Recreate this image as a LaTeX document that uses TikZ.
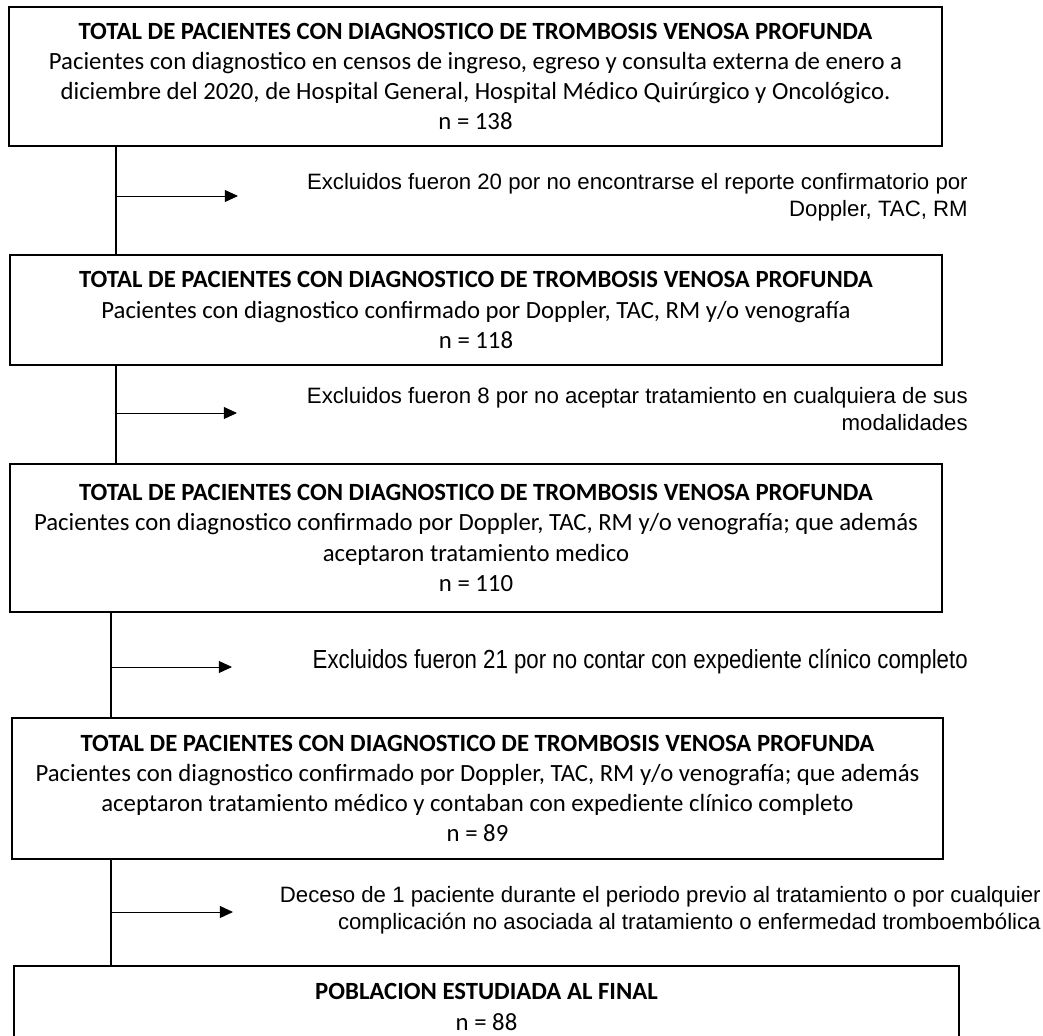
\documentclass[tikz,border=0pt]{standalone}
\usepackage{fontspec}
\setmainfont{Carlito}
\newfontfamily\arialfont{Liberation Sans}
\newfontfamily\narrowfont[FakeStretch=0.85]{Liberation Sans}
\usepackage{tikz}
\usetikzlibrary{calc,arrows.meta,positioning}
\tikzstyle{caja}=[draw,line width=1.2pt,align=center,inner sep=0pt,font=\fontsize{17.6}{21.4}\selectfont]
\tikzstyle{nota}=[anchor=east,align=right,inner sep=0pt,font=\arialfont\fontsize{15.8}{19.2}\selectfont]
\tikzstyle{linea}=[line width=1.2pt]
\tikzstyle{flecha}=[-{Triangle[length=0.33cm,width=0.3cm]},line width=0.6pt]

\begin{document}
\begin{tikzpicture}[x=0.025cm,y=-0.025cm]
        \useasboundingbox (0,0) rectangle (1043,1036);
        % First box:
        \node (b1) [caja,minimum width=23.33cm,minimum height=3.475cm] at (475.5,76.5)
        {\textbf{TOTAL DE PACIENTES CON DIAGNOSTICO DE TROMBOSIS VENOSA PROFUNDA}\\
        Pacientes con diagnostico en censos de ingreso, egreso y consulta externa de enero a\\
        diciembre del 2020, de Hospital General, Hospital Médico Quirúrgico y Oncológico.\\
        n = 138};
        % Second box:
        \node (b2) [caja,minimum width=23.3cm,minimum height=2.75cm] at (476,310)
        {\textbf{TOTAL DE PACIENTES CON DIAGNOSTICO DE TROMBOSIS VENOSA PROFUNDA}\\
        Pacientes con diagnostico confirmado por Doppler, TAC, RM y/o venografía\\
        n = 118};
        % Third box:
        \node (b3) [caja,minimum width=23.3cm,minimum height=3.7cm] at (476,538)
        {\textbf{TOTAL DE PACIENTES CON DIAGNOSTICO DE TROMBOSIS VENOSA PROFUNDA}\\
        Pacientes con diagnostico confirmado por Doppler, TAC, RM y/o venografía; que además\\
        aceptaron tratamiento medico\\
        n = 110};
        % Fourth box:
        \node (b4) [caja,minimum width=23.275cm,minimum height=3.525cm] at (477.5,788.5)
        {\textbf{TOTAL DE PACIENTES CON DIAGNOSTICO DE TROMBOSIS VENOSA PROFUNDA}\\
        Pacientes con diagnostico confirmado por Doppler, TAC, RM y/o venografía; que además\\
        aceptaron tratamiento médico y contaban con expediente clínico completo\\
        n = 89};
        % Fifth box:
        \node (b5) [caja,minimum width=23.625cm,minimum height=2.05cm] at (486.5,1007)
        {\textbf{POBLACION ESTUDIADA AL FINAL}\\
        n = 88};

        % Exclusions:
        \coordinate (s1) at (116,196); \coordinate (t1) at (238,196);
        \coordinate (s2) at (116,413); \coordinate (t2) at (237,413);
        \coordinate (s3) at (111,667); \coordinate (t3) at (232,667);
        \coordinate (s4) at (111,912); \coordinate (t4) at (233,912);

        \node (e1) [nota] at (968,197)
        {Excluidos fueron 20 por no encontrarse el reporte confirmatorio por\\ Doppler, TAC, RM};
        \node (e2) [nota] at (968,409)
        {Excluidos fueron 8 por no aceptar tratamiento en cualquiera de sus\\ modalidades};
        \node (e3) [nota,font=\narrowfont\fontsize{18.6}{20}\selectfont] at (968,662)
        {Excluidos fueron 21 por no contar con expediente clínico completo};
        \node (e4) [nota] at (1041,910)
        {Deceso de 1 paciente durante el periodo previo al tratamiento o por cualquier\\
        complicación no asociada al tratamiento o enfermedad tromboembólica};

        \draw[linea] (b1.south -| s1) -- (b2.north -| s1);
        \draw[linea] (b2.south -| s2) -- (b3.north -| s2);
        \draw[linea] (b3.south -| s3) -- (b4.north -| s3);
        \draw[linea] (b4.south -| s4) -- (b5.north -| s4);
        \draw[flecha] (s1) -- (t1);
        \draw[flecha] (s2) -- (t2);
        \draw[flecha] (s3) -- (t3);
        \draw[flecha] (s4) -- (t4);
\end{tikzpicture}
\end{document}
